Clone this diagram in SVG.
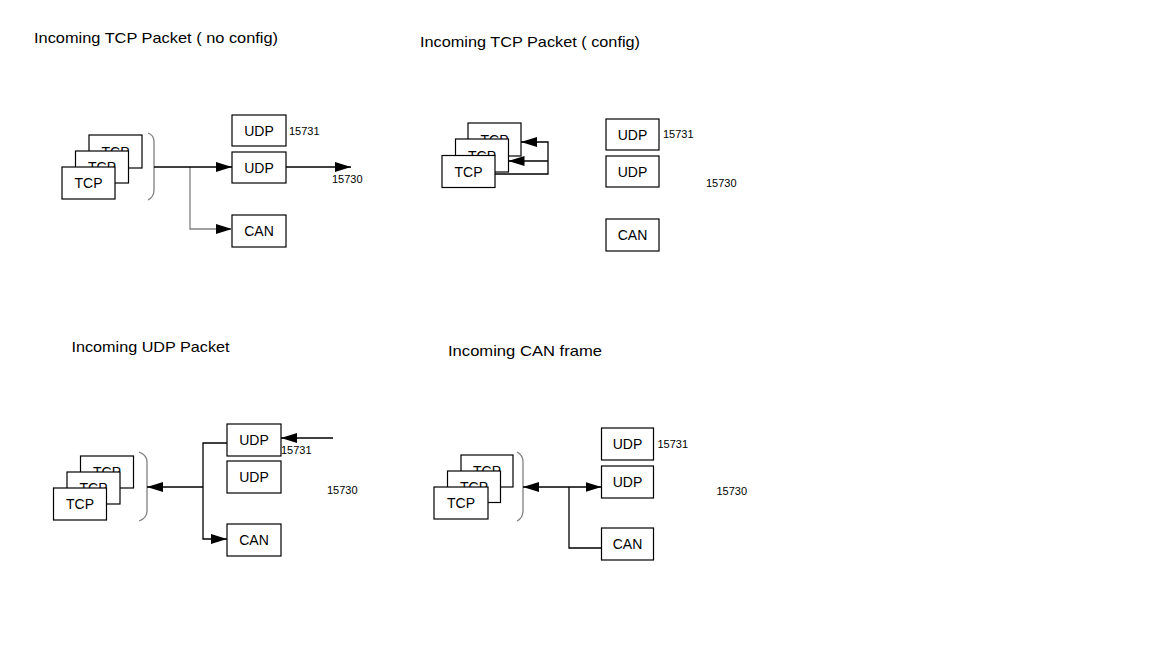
<svg xmlns="http://www.w3.org/2000/svg" width="1152" height="648" viewBox="0 0 1152 648">
<style>
  text { font-family: "Liberation Sans", Arial, sans-serif; fill: #000; }
  .title { font-size: 15px; }
  .lbl { font-size: 14px; text-anchor: middle; }
  .num { font-size: 11px; }
  .box { fill: #fff; stroke: #000; stroke-width: 1.2; }
  .ln { fill: none; stroke: #000; stroke-width: 1.3; }
  .gl { fill: none; stroke: #808080; stroke-width: 1.3; }
  .br { fill: none; stroke: #808080; stroke-width: 1.3; }
</style>
<defs>
  <marker id="ah" markerUnits="userSpaceOnUse" markerWidth="16" markerHeight="10" refX="16" refY="5" orient="auto-start-reverse">
    <path d="M0,0 L16,5 L0,10 z" fill="#000"/>
  </marker>
</defs>
<rect width="1152" height="648" fill="#fff"/>

<g id="titles">
  <text class="title" x="34" y="43" textLength="244" lengthAdjust="spacingAndGlyphs">Incoming TCP Packet ( no config)</text>
  <text class="title" x="420" y="47" textLength="220" lengthAdjust="spacingAndGlyphs">Incoming TCP Packet ( config)</text>
  <text class="title" x="71.5" y="352" textLength="158" lengthAdjust="spacingAndGlyphs">Incoming UDP Packet</text>
  <text class="title" x="448" y="355.5" textLength="154" lengthAdjust="spacingAndGlyphs">Incoming CAN frame</text>
</g>

<!-- Panel 1 -->
<g id="p1-tcp-stack">
  <rect class="box" x="89" y="135" width="53" height="33"/>
  <text class="lbl" x="115.5" y="156.5">TCP</text>
  <rect class="box" x="75.5" y="151" width="53" height="32"/>
  <text class="lbl" x="102" y="172">TCP</text>
  <rect class="box" x="62" y="167" width="53" height="32"/>
  <text class="lbl" x="88.5" y="188">TCP</text>
</g>
<g id="p1-udp1"><rect class="box" x="232" y="115" width="54" height="31"/><text class="lbl" x="259" y="135.5">UDP</text></g>
<g id="p1-udp2"><rect class="box" x="232" y="152" width="54" height="31"/><text class="lbl" x="259" y="172.5">UDP</text></g>
<g id="p1-can"><rect class="box" x="232" y="215" width="54" height="32"/><text class="lbl" x="259" y="236">CAN</text></g>
<g id="p1-labels">
  <text class="num" x="289" y="134.5">15731</text>
  <text class="num" x="332" y="183">15730</text>
</g>

<!-- Panel 2 -->
<g id="p2-tcp-stack">
  <rect class="box" x="468" y="123" width="53" height="33"/>
  <text class="lbl" x="494.5" y="144.5">TCP</text>
  <rect class="box" x="455.5" y="139" width="53" height="33"/>
  <text class="lbl" x="482" y="160.5">TCP</text>
  <rect class="box" x="442" y="155.5" width="53" height="32"/>
  <text class="lbl" x="468.5" y="176.5">TCP</text>
</g>
<g id="p2-udp1"><rect class="box" x="606" y="119" width="53" height="31"/><text class="lbl" x="632.5" y="139.5">UDP</text></g>
<g id="p2-udp2"><rect class="box" x="606" y="156" width="53" height="31"/><text class="lbl" x="632.5" y="176.5">UDP</text></g>
<g id="p2-can"><rect class="box" x="606" y="219" width="53" height="32"/><text class="lbl" x="632.5" y="240">CAN</text></g>
<g id="p2-labels">
  <text class="num" x="663" y="137.5">15731</text>
  <text class="num" x="706" y="187">15730</text>
</g>

<!-- Panel 3 -->
<g id="p3-tcp-stack">
  <rect class="box" x="80.5" y="456" width="53" height="32"/>
  <text class="lbl" x="107" y="477">TCP</text>
  <rect class="box" x="67" y="472" width="53" height="32"/>
  <text class="lbl" x="93.5" y="493">TCP</text>
  <rect class="box" x="53.5" y="488" width="53" height="32"/>
  <text class="lbl" x="80" y="509">TCP</text>
</g>
<g id="p3-udp1"><rect class="box" x="227" y="424" width="54" height="32"/><text class="lbl" x="254" y="445">UDP</text></g>
<g id="p3-udp2"><rect class="box" x="227" y="461" width="54" height="32"/><text class="lbl" x="254" y="482">UDP</text></g>
<g id="p3-can"><rect class="box" x="227" y="524" width="54" height="32"/><text class="lbl" x="254" y="545">CAN</text></g>
<g id="p3-labels">
  <text class="num" x="281" y="454">15731</text>
  <text class="num" x="327" y="493.5">15730</text>
</g>

<!-- Panel 4 -->
<g id="p4-tcp-stack">
  <rect class="box" x="461" y="455" width="52" height="32"/>
  <text class="lbl" x="487" y="476">TCP</text>
  <rect class="box" x="447.5" y="471" width="53" height="31.5"/>
  <text class="lbl" x="474" y="492">TCP</text>
  <rect class="box" x="434" y="487" width="54" height="32"/>
  <text class="lbl" x="461" y="508">TCP</text>
</g>
<g id="p4-udp1"><rect class="box" x="601.5" y="428" width="52" height="32"/><text class="lbl" x="627.5" y="449">UDP</text></g>
<g id="p4-udp2"><rect class="box" x="601.5" y="466" width="52" height="32"/><text class="lbl" x="627.5" y="487">UDP</text></g>
<g id="p4-can"><rect class="box" x="601.5" y="528" width="52" height="32"/><text class="lbl" x="627.5" y="549">CAN</text></g>
<g id="p4-labels">
  <text class="num" x="657.5" y="447.5">15731</text>
  <text class="num" x="716.5" y="495">15730</text>
</g>

<g id="connectors">
  <!-- panel 1 -->
  <path class="br" d="M148,133 Q154,135 154,142 V190 Q154,197 148,200"/>
  <path class="gl" d="M190,167 V229 H232" marker-end="url(#ah)"/>
  <path class="ln" d="M154,167 H232" marker-end="url(#ah)"/>
  <path class="ln" d="M286,167 H351" marker-end="url(#ah)"/>
  <!-- panel 2 -->
  <path class="ln" d="M495,174 H548 V142 H521" marker-end="url(#ah)"/>
  <path class="ln" d="M548,161 H508.5" marker-end="url(#ah)"/>
  <!-- panel 3 -->
  <path class="br" d="M139,452 Q147,455 147,462 V511 Q147,518 139,521"/>
  <path class="ln" d="M203,487 H147" marker-end="url(#ah)"/>
  <path class="ln" d="M227,443 H203 V539 H227" marker-end="url(#ah)"/>
  <path class="ln" d="M333,438 H281" marker-end="url(#ah)"/>
  <!-- panel 4 -->
  <path class="br" d="M517,452 Q523,455 523,462 V511 Q523,518 517,521"/>
  <path class="ln" d="M523,487 H601.5" marker-start="url(#ah)" marker-end="url(#ah)"/>
  <path class="ln" d="M569,487 V548 H601.5"/>
</g>
</svg>
